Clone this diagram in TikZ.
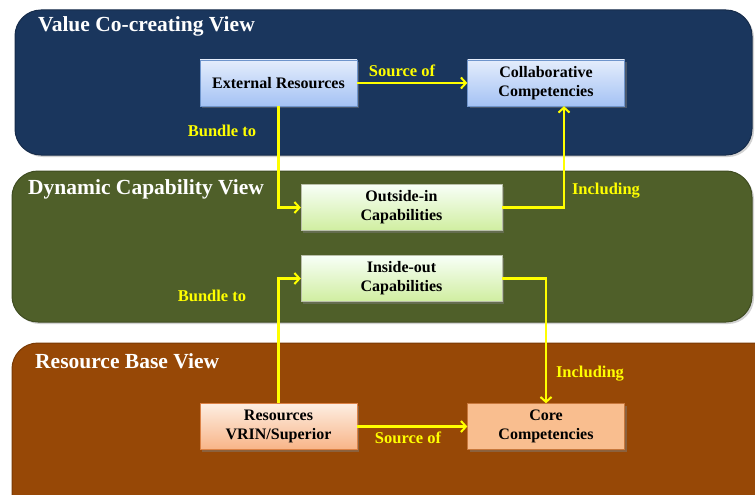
\documentclass[tikz,border=0pt]{standalone}
\usepackage{fontspec}
\setmainfont{Liberation Serif}
\usetikzlibrary{shadows,calc,arrows.meta}
\definecolor{navy}{HTML}{1A365D}
\definecolor{olive}{HTML}{4F5F29}
\definecolor{rust}{HTML}{974806}
\definecolor{arrowy}{HTML}{FFFF00}
\definecolor{bluetop}{HTML}{E4EDFC}
\definecolor{bluebot}{HTML}{A4C2F4}
\definecolor{blueline}{HTML}{6F95CC}
\tikzset{
  panel/.style={rounded corners=26pt, draw=#1!80!black, line width=1pt, fill=#1,
    drop shadow={opacity=0.35, shadow xshift=2pt, shadow yshift=-2pt}},
  paneltitle/.style={anchor=west, text=white, inner sep=0pt, font=\fontsize{21.5}{24}\selectfont\bfseries},
  box/.style={minimum width=157pt, minimum height=46pt, align=center, inner sep=2pt,
    font=\fontsize{16}{19}\selectfont\bfseries, text=black,
    drop shadow={opacity=0.45, shadow xshift=2pt, shadow yshift=-2pt}},
  bluebox/.style={box, draw=blueline, top color=bluetop, bottom color=bluebot},
  greenbox/.style={box, minimum width=201pt, draw=olive!40, top color=green!3!white, bottom color={rgb,255:red,208;green,238;blue,160}},
  orangebox/.style={box, draw={rgb,255:red,220;green,130;blue,70}, top color={rgb,255:red,253;green,238;blue,226}, bottom color={rgb,255:red,248;green,180;blue,135}},
  flatbox/.style={box, draw={rgb,255:red,200;green,120;blue,60}, fill={rgb,255:red,249;green,190;blue,143}},
  conn/.style={draw=arrowy, line width=2.2pt, -{Straight Barb[length=5pt,width=11pt,line width=2pt]}},
  lab/.style={text=arrowy, font=\fontsize{16.5}{19}\selectfont\bfseries},
}
\begin{document}
\begin{tikzpicture}[x=1pt,y=-1pt]
\useasboundingbox (0,0) rectangle (755,495);
% panels
\fill[white] (0,0) rectangle (755,495);
\begin{scope}
\clip (0,0) rectangle (755,495);
\path[panel=navy] (15,10) rectangle (752,155);
\path[panel=olive] (12,171) rectangle (752,322);
\path[panel=rust] (12,343) rectangle (780,520);
\end{scope}
\node[paneltitle] (t1) at (38,26) {Value Co-creating View};
\node[paneltitle] (t2) at (28,189) {Dynamic Capability View};
\node[paneltitle] (t3) at (35,361) {Resource Base View};
% boxes
\node[bluebox] (ext) at (278.5,83) {External Resources};
\node[bluebox] (col) at (546,83) {Collaborative\\Competencies};
\node[greenbox] (oin) at (401.5,207.5) {Outside-in\\Capabilities};
\node[greenbox] (iout) at (401.5,278.5) {Inside-out\\Capabilities};
\node[orangebox] (res) at (278.5,426.5) {Resources\\VRIN/Superior};
\node[flatbox] (core) at (546,426.5) {Core\\Competencies};
% connectors
\draw[conn] (ext) -- (col);
\draw[conn] (ext.south) |- (oin.west);
\draw[conn] (oin.east) -| ($(col.south)+(18,0)$);
\draw[conn] (res.north) |- (iout.west);
\draw[conn] (iout.east) -| (core.north);
\draw[conn] (res) -- (core);
% labels
\node[lab] (l1) at (402,71) {Source of};
\node[lab] (l2) at (222,131) {Bundle to};
\node[lab] (l3) at (606,191) {Including};
\node[lab] (l4) at (212,296) {Bundle to};
\node[lab] (l5) at (590,374) {Including};
\node[lab] (l6) at (408,438) {Source of};
\end{tikzpicture}
\end{document}
